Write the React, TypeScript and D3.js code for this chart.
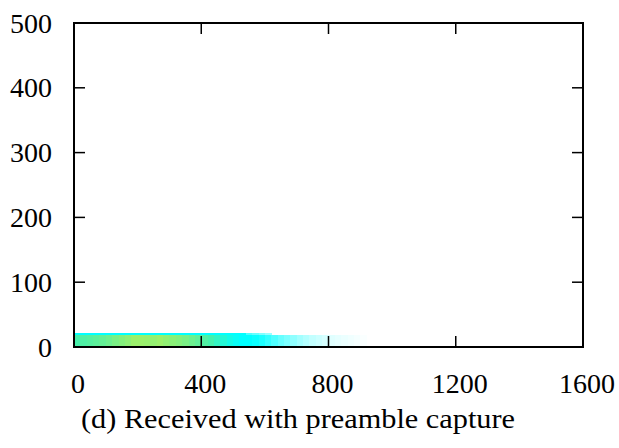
import React from "react";
import * as d3 from "d3";

const xTicks = [0, 400, 800, 1200, 1600];
const yTicks = [0, 100, 200, 300, 400, 500];
const binWidth = 20;
// main row (y 0-18) intensity per 20-unit bin
const mainRow = [
  0.75, 0.77, 0.79, 0.81, 0.83, 0.86, 0.9, 0.93, 0.96, 1.0,
  1.0, 0.99, 0.98, 1.0, 0.97, 0.95, 0.93, 0.9, 0.86, 0.82,
  0.78, 0.74, 0.68, 0.62, 0.57, 0.53, 0.5, 0.5, 0.48, 0.45,
  0.4, 0.35, 0.3, 0.26, 0.22, 0.18, 0.15, 0.12, 0.1, 0.08,
  0.06, 0.05, 0.04, 0.03, 0.02, 0.01,
];
// top row (y 18-22)
const topRow = [
  0.5, 0.5, 0.5, 0.5, 0.5, 0.5, 0.5, 0.5, 0.5, 0.5,
  0.5, 0.5, 0.5, 0.5, 0.5, 0.5, 0.5, 0.5, 0.5, 0.5,
  0.5, 0.5, 0.5, 0.5, 0.5, 0.5, 0.5, 0.35, 0.3, 0.25, 0.2,
];
const rowBounds = [0, 18, 22];
const caption = "(d) Received with preamble capture";

const W = 619, H = 448;
const margin = { left: 74, right: 36, top: 23, bottom: 101 };

export default function App() {
  const x = d3.scaleLinear().domain([0, 1600]).range([margin.left, W - margin.right]);
  const y = d3.scaleLinear().domain([0, 500]).range([H - margin.bottom, margin.top]);
  const color = d3
    .scaleLinear<string>()
    .domain([0, 0.5, 0.75, 1])
    .range(["#ffffff", "#00ffff", "#48f0aa", "#9cf06c"])
    .clamp(true);
  const font = "'Liberation Serif', 'Times New Roman', serif";
  const rows = [mainRow, topRow];
  const x0 = x(0), x1 = x(1600), y0 = y(0), y1 = y(500);
  const tl = 11;
  return (
    <svg width={W} height={H} style={{ position: "absolute", left: 0, top: 0, background: "#fff" }}>
      <g shapeRendering="crispEdges">
        {rows.map((row, r) =>
          row.map((v, i) => (
            <rect
              key={`${r}-${i}`}
              x={x(i * binWidth)}
              width={x((i + 1) * binWidth) - x(i * binWidth) + 0.5}
              y={y(rowBounds[r + 1])}
              height={y(rowBounds[r]) - y(rowBounds[r + 1])}
              fill={color(v)}
            />
          ))
        )}
      </g>
      {xTicks.slice(1, -1).map((t) => (
        <g key={`xt${t}`} stroke="#000" strokeWidth={1.5}>
          <line x1={x(t)} x2={x(t)} y1={y0} y2={y0 - tl} />
          <line x1={x(t)} x2={x(t)} y1={y1} y2={y1 + tl} />
        </g>
      ))}
      {yTicks.slice(1, -1).map((t) => (
        <g key={`yt${t}`} stroke="#000" strokeWidth={1.5}>
          <line x1={x0} x2={x0 + tl} y1={y(t)} y2={y(t)} />
          <line x1={x1} x2={x1 - tl} y1={y(t)} y2={y(t)} />
        </g>
      ))}
      <rect x={x0} y={y1} width={x1 - x0} height={y0 - y1} fill="none" stroke="#000" strokeWidth={2} />
      {xTicks.map((t) => (
        <text key={`xl${t}`} x={x(t) + 4} y={393} textAnchor="middle" fontFamily={font} fontSize={28} fill="#000">
          {t}
        </text>
      ))}
      {yTicks.map((t) => (
        <text key={`yl${t}`} x={52} y={y(t) + 9.5} textAnchor="end" fontFamily={font} fontSize={28} fill="#000">
          {t}
        </text>
      ))}
      <text x={298} y={428} textAnchor="middle" fontFamily={font} fontSize={28} fill="#000" textLength={434} lengthAdjust="spacingAndGlyphs">
        {caption}
      </text>
    </svg>
  );
}
